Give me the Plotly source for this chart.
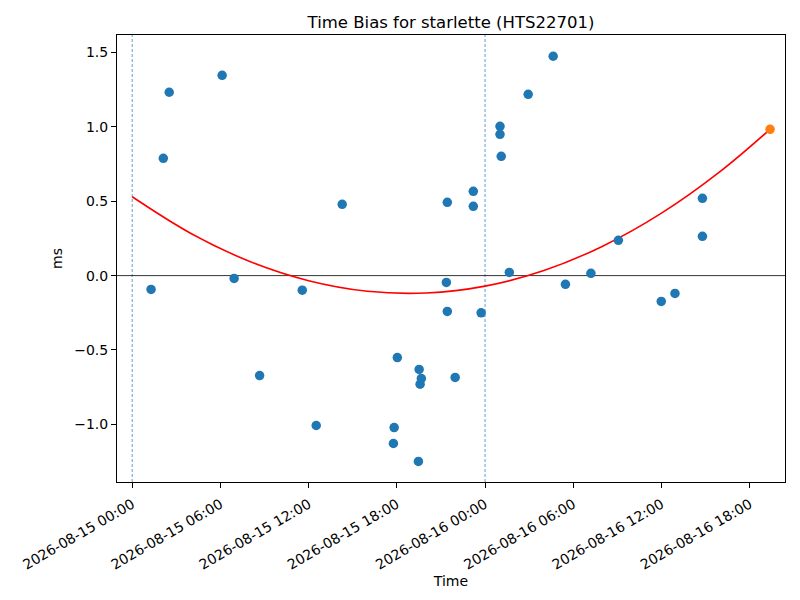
import plotly.graph_objects as go

# measured time bias samples (ms)
times = [
    "2026-08-15 01:17", "2026-08-15 02:07", "2026-08-15 02:31", "2026-08-15 06:07",
    "2026-08-15 06:56", "2026-08-15 08:40", "2026-08-15 11:34", "2026-08-15 12:31",
    "2026-08-15 14:17", "2026-08-15 17:46", "2026-08-15 17:49", "2026-08-15 18:02",
    "2026-08-15 19:28", "2026-08-15 19:31", "2026-08-15 19:40", "2026-08-15 19:35",
    "2026-08-15 21:22", "2026-08-15 21:26", "2026-08-15 21:26", "2026-08-15 21:58",
    "2026-08-15 23:12", "2026-08-15 23:12", "2026-08-15 23:44", "2026-08-16 01:01",
    "2026-08-16 01:01", "2026-08-16 01:06", "2026-08-16 01:39", "2026-08-16 02:56",
    "2026-08-16 04:38", "2026-08-16 05:28", "2026-08-16 07:12", "2026-08-16 09:04",
    "2026-08-16 11:59", "2026-08-16 12:55", "2026-08-16 14:47", "2026-08-16 14:47",
]
bias = [
    -0.093, 0.789, 1.233, 1.347,
    -0.019, -0.672, -0.098, -1.008,
    0.479, -1.129, -1.022, -0.551,
    -1.250, -0.631, -0.692, -0.730,
    -0.046, 0.493, -0.241, -0.685,
    0.567, 0.466, -0.250, 1.004,
    0.950, 0.802, 0.021, 1.219,
    1.475, -0.059, 0.015, 0.237,
    -0.174, -0.120, 0.520, 0.264,
]

# latest sample, highlighted
last_time = ["2026-08-16 19:23"]
last_bias = [0.984]

# fitted trend
fit_times = [
    "2026-08-15 00:00", "2026-08-15 04:00", "2026-08-15 08:00", "2026-08-15 12:00",
    "2026-08-15 16:00", "2026-08-15 20:00", "2026-08-16 00:00", "2026-08-16 04:00",
    "2026-08-16 08:00", "2026-08-16 12:00", "2026-08-16 16:00", "2026-08-16 19:23",
]
fit_bias = [0.530, 0.283, 0.095, -0.034, -0.105, -0.117, -0.071, 0.034, 0.198, 0.420, 0.701, 0.984]

midnights = ["2026-08-15 00:00", "2026-08-16 00:00"]

tick_vals = [
    "2026-08-15 00:00", "2026-08-15 06:00", "2026-08-15 12:00", "2026-08-15 18:00",
    "2026-08-16 00:00", "2026-08-16 06:00", "2026-08-16 12:00", "2026-08-16 18:00",
]
y_ticks = [-1.0, -0.5, 0.0, 0.5, 1.0, 1.5]
y_tick_text = ["\u22121.0", "\u22120.5", "0.0", "0.5", "1.0", "1.5"]

fig = go.Figure()

fig.add_trace(go.Scatter(
    x=fit_times, y=fit_bias, mode="lines",
    line=dict(color="red", width=1.6, shape="spline"),
    showlegend=False
))
fig.add_trace(go.Scatter(
    x=times, y=bias, mode="markers",
    marker=dict(color="#1f77b4", size=9.5),
    showlegend=False
))
fig.add_trace(go.Scatter(
    x=last_time, y=last_bias, mode="markers",
    marker=dict(color="#ff7f0e", size=9.5),
    showlegend=False
))

for m in midnights:
    fig.add_vline(x=m, line=dict(color="#1f77b4", width=0.7, dash="3px,2px"), layer="below")
fig.add_hline(y=0, line=dict(color="black", width=0.8), layer="below")

# page body adds an 8px offset, so the figure is a bit smaller than the window
fig.update_layout(
    width=792, height=592,
    margin=dict(l=109, r=15, t=27, b=118),
    plot_bgcolor="white", paper_bgcolor="white",
    font=dict(family="DejaVu Sans", size=14, color="black"),
    title=dict(text="Time Bias for starlette (HTS22701)", xref="paper", x=0.5, xanchor="center",
               y=1 - 14 / 592, yanchor="middle", font=dict(size=16.5)),
)
fig.update_xaxes(
    range=["2026-08-14 22:58", "2026-08-16 20:24"],
    tickvals=tick_vals, ticktext=tick_vals, tickangle=-30,
    ticks="outside", ticklen=5, tickcolor="black", ticklabelstandoff=3,
    showline=True, linecolor="black", linewidth=1, mirror=True,
    showgrid=False, zeroline=False, automargin=False,
    title=dict(text="Time", standoff=2, font=dict(size=14)),
)
fig.update_yaxes(
    range=[-1.388, 1.618],
    tickvals=y_ticks, ticktext=y_tick_text,
    ticks="outside", ticklen=5, tickcolor="black",
    showline=True, linecolor="black", linewidth=1, mirror=True,
    showgrid=False, zeroline=False, automargin=False,
    title=dict(text="ms", standoff=8, font=dict(size=14)),
)

fig.write_html("out.html")
